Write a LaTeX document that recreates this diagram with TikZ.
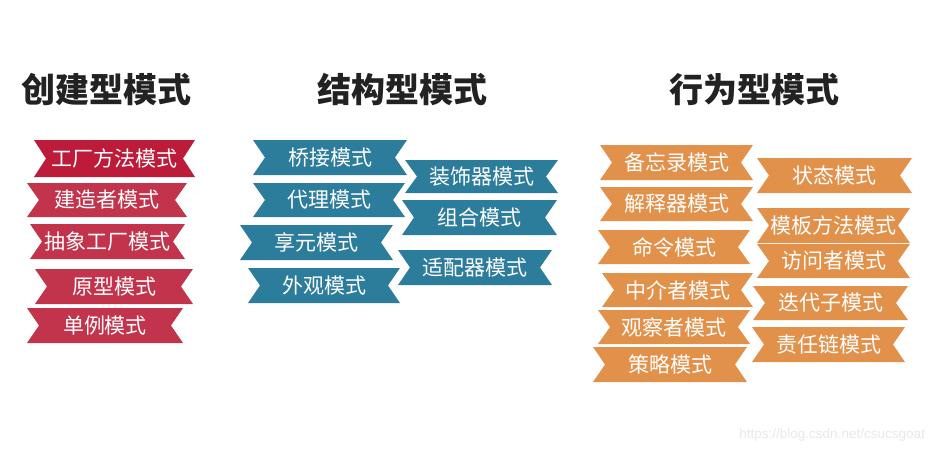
\documentclass[tikz,border=0pt]{standalone}
\usepackage{fontspec}
\newfontfamily\cjk{Noto Sans CJK SC}
\newfontfamily\wmfont{Liberation Sans}
\definecolor{redA}{HTML}{BC1B3A}
\definecolor{redB}{HTML}{C2334C}
\definecolor{blueR}{HTML}{2C7C9C}
\definecolor{orangeR}{HTML}{E2914B}
\definecolor{titlec}{HTML}{222222}
\tikzset{
  ribtext/.style={text=white,font=\cjk\fontsize{21}{25}\selectfont,inner sep=0pt},
  titletext/.style={text=titlec,font=\cjk\bfseries\fontsize{34}{40}\selectfont,inner sep=0pt},
  wmtext/.style={text=black!9,font=\wmfont\fontsize{13.5}{16}\selectfont,inner sep=0pt,anchor=east}
}
\newcommand\rib[7]{%
  \fill[#6] (#2,#4) -- (#3,#4) -- ({#3-12},{(#4+#5)/2}) -- (#3,#5) -- (#2,#5) -- ({#2+12},{(#4+#5)/2}) -- cycle;
  \node[ribtext] (#1) at ({(#2+#3)/2},{(#4+#5)/2}) {#7};
}
\begin{document}
\begin{tikzpicture}[x=1pt,y=-1pt]
\useasboundingbox (0,0) rectangle (935,453);
% titles
\node[titletext] (t1) at (106,90) {创建型模式};
\node[titletext] (t2) at (402,90) {结构型模式};
\node[titletext] (t3) at (754,90) {行为型模式};
% creational
\rib{c1}{34}{195}{140}{177}{redA}{工厂方法模式}
\rib{c2}{27}{187}{183}{217}{redB}{建造者模式}
\rib{c3}{30}{185}{224}{259}{redB}{抽象工厂模式}
\rib{c4}{35}{193}{269}{304}{redB}{原型模式}
\rib{c5}{27}{183}{308}{343}{redB}{单例模式}
% structural
\rib{s1}{253}{407}{140}{175}{blueR}{桥接模式}
\rib{s2}{253}{405}{183}{217}{blueR}{代理模式}
\rib{s3}{240}{393}{225}{260}{blueR}{享元模式}
\rib{s4}{248}{400}{268}{303}{blueR}{外观模式}
\rib{s5}{405}{558}{160}{193}{blueR}{装饰器模式}
\rib{s6}{402}{557}{200}{235}{blueR}{组合模式}
\rib{s7}{398}{552}{250}{285}{blueR}{适配器模式}
% behavioural
\rib{b1}{600}{753}{145}{180}{orangeR}{备忘录模式}
\rib{b2}{600}{753}{187}{221}{orangeR}{解释器模式}
\rib{b3}{598}{750}{230}{264}{orangeR}{命令模式}
\rib{b4}{602}{753}{273}{307}{orangeR}{中介者模式}
\rib{b5}{598}{750}{310}{344}{orangeR}{观察者模式}
\rib{b6}{593}{747}{347}{382}{orangeR}{策略模式}
\rib{b7}{757}{912}{158}{193}{orangeR}{状态模式}
\rib{b8}{757}{910}{208}{243}{orangeR}{模板方法模式}
\rib{b9}{757}{910}{244}{278}{orangeR}{访问者模式}
\rib{b10}{753}{908}{286}{320}{orangeR}{迭代子模式}
\rib{b11}{752}{905}{327}{362}{orangeR}{责任链模式}
% watermark
\node[wmtext] (wm) at (925,435) {https://blog.csdn.net/csucsgoat};
\end{tikzpicture}
\end{document}
